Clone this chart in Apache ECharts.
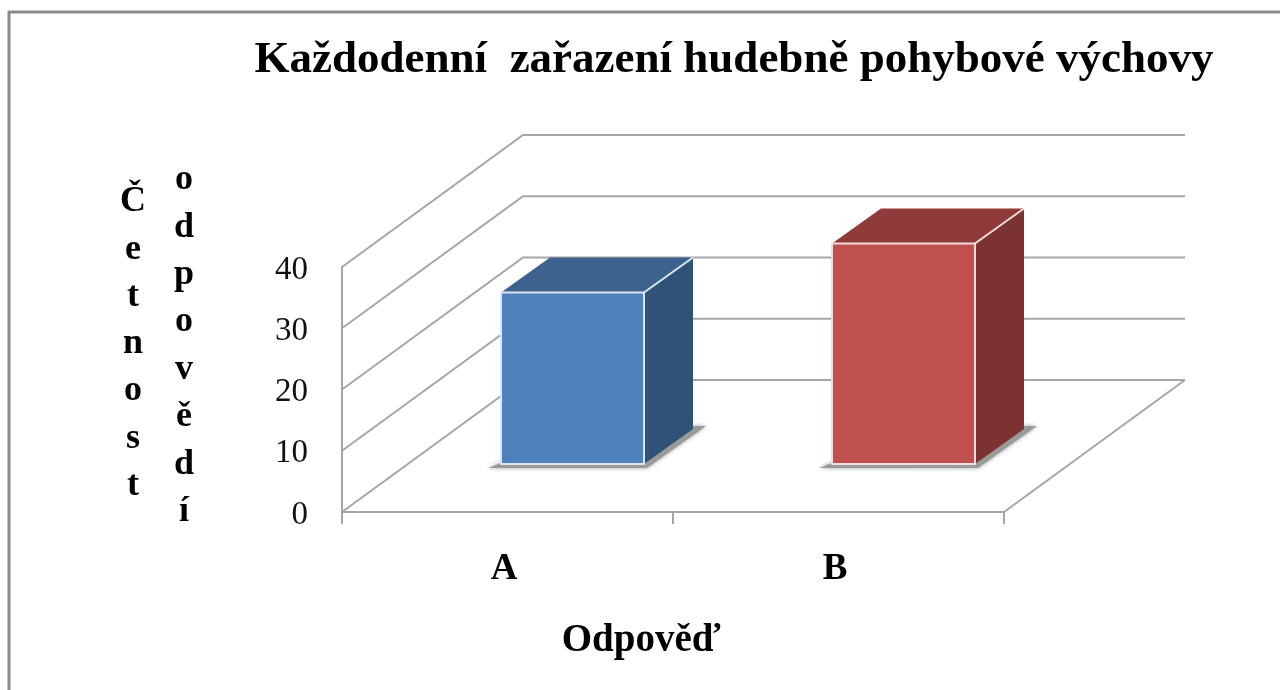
<!DOCTYPE html>
<html>
<head>
<meta charset="utf-8">
<style>html,body{margin:0;padding:0;background:#fff}#chart{width:1280px;height:690px}</style>
<script src="https://cdn.jsdelivr.net/npm/echarts@6/dist/echarts.min.js"></script>
</head>
<body>
<div id="chart"></div>
<script>
const titleText = 'Každodenní  zařazení hudebně pohybové výchovy';
const categories = ['A', 'B'];
const values = [28, 36];
const yTicks = [0, 10, 20, 30, 40];
const xAxisTitle = 'Odpověď';
const yTitleFirst = ['Č','e','t','n','o','s','t'];
const yTitleSecond = ['o','d','p','o','v','ě','d','í'];
const faces = [
  {front:'#4f81bd', top:'#3e628e', side:'#315278', edge:'#dce6f2'},
  {front:'#c0504d', top:'#8f3b39', side:'#7b3230', edge:'#f2dcdb'}
];
const FONT = '"Liberation Serif", "Times New Roman", serif';

const chart = echarts.init(document.getElementById('chart'), null, {renderer:'canvas'});

/* 3D projection of the chart: depth of the whole floor, of the bars, and where bars stand on the floor */
const depthX = 181, depthY = -132;
const barDepthX = 49, barDepthY = -35;
const standX = 65, standY = -48;
const barWidthRatio = 0.432;

function renderWall(params, api) {
  const cs = params.coordSys;
  const p = api.coord([0, api.value(1)]);
  const x0 = cs.x, x1 = cs.x + cs.width, y = p[1];
  const lineStyle = {stroke:'#a6a6a6', lineWidth:2, fill:null};
  const children = [
    {type:'polyline', shape:{points:[[x0,y],[x0+depthX,y+depthY],[x1+depthX,y+depthY]]}, style:lineStyle}
  ];
  if (api.value(1) === yTicks[0]) {
    children.push({type:'line', shape:{x1:x1,y1:y,x2:x1+depthX,y2:y+depthY}, style:lineStyle});
  }
  return {type:'group', children};
}

function renderBar(params, api) {
  const idx = api.value(0);
  const base = api.coord([idx, 0]);
  const top = api.coord([idx, api.value(1)]);
  const w = api.size([1, 0])[0] * barWidthRatio;
  const x0 = base[0] + standX - w/2, x1 = x0 + w;
  const yb = base[1] + standY, yt = top[1] + standY;
  const dx = barDepthX, dy = barDepthY;
  const c = faces[idx];
  const edge = {stroke:c.edge, lineWidth:2, lineJoin:'round'};
  return {type:'group', children:[
    {type:'polygon', shape:{points:[[x0-13,yb+4],[x1+3,yb+4],[x1+dx+13,yb+dy-3],[x1+dx,yb+dy-3],[x1,yb],[x0,yb-1]]},
      style:{fill:'#9a9a9a', shadowBlur:4, shadowColor:'rgba(120,120,120,0.7)'}},
    {type:'polygon', shape:{points:[[x0,yt],[x0+dx,yt+dy],[x1+dx,yt+dy],[x1,yt]]}, style:{fill:c.top}},
    {type:'polygon', shape:{points:[[x1,yt],[x1+dx,yt+dy],[x1+dx,yb+dy],[x1,yb]]}, style:{fill:c.side}},
    {type:'rect', shape:{x:x0,y:yt,width:w,height:yb-yt}, style:Object.assign({fill:c.front}, edge)},
    {type:'line', shape:{x1:x1,y1:yt,x2:x1+dx,y2:yt+dy}, style:edge}
  ]};
}

function letters(arr, x, yTop, step) {
  return arr.map((ch, i) => ({
    type:'text', x, y: yTop + i*step,
    style:{text:ch, font:'bold 36px '+FONT, fill:'#000', align:'center', verticalAlign:'middle'}
  }));
}

chart.setOption({
  animation:false,
  backgroundColor:'#fff',
  title:{text:titleText, left:729, top:33, textAlign:'center',
    textStyle:{fontFamily:FONT, fontWeight:'bold', fontSize:45, color:'#000'}},
  grid:{left:342, top:267, width:662, height:245},
  xAxis:{type:'category', data:categories, boundaryGap:true,
    name:xAxisTitle, nameLocation:'middle', nameGap:109,
    nameTextStyle:{fontFamily:FONT, fontWeight:'bold', fontSize:39, color:'#000', padding:[0,64,0,0]},
    axisLine:{show:true, lineStyle:{color:'#a6a6a6', width:2}},
    axisTick:{show:true, length:12, alignWithLabel:false, lineStyle:{color:'#a6a6a6', width:2}},
    axisLabel:{fontFamily:FONT, fontWeight:'bold', fontSize:37, color:'#000', margin:39, padding:[0,7,0,0]},
    splitLine:{show:false}},
  yAxis:{type:'value', min:0, max:40, interval:10,
    axisLine:{show:true, lineStyle:{color:'#a6a6a6', width:2}},
    axisTick:{show:false},
    axisLabel:{fontFamily:FONT, fontSize:33, color:'#111', margin:34, verticalAlign:'top', lineHeight:6},
    splitLine:{show:false}},
  graphic:[
    {type:'polyline', silent:true, shape:{points:[[9,690],[9,12],[1280,12]]}, style:{stroke:'#8c8c8c', lineWidth:3, fill:null}},
    ...letters(yTitleFirst, 133, 202, 47.3),
    ...letters(yTitleSecond, 184, 180, 47.4)
  ],
  series:[
    {type:'custom', name:'wall', coordinateSystem:'cartesian2d', renderItem:renderWall, clip:false, silent:true,
      encode:{x:0,y:1}, z:1, data:yTicks.map(v => [0, v])},
    {type:'custom', name:'bars', coordinateSystem:'cartesian2d', renderItem:renderBar, clip:false,
      encode:{x:0,y:1}, z:3, data:values.map((v,i) => [i, v])}
  ]
});
</script>
</body>
</html>
